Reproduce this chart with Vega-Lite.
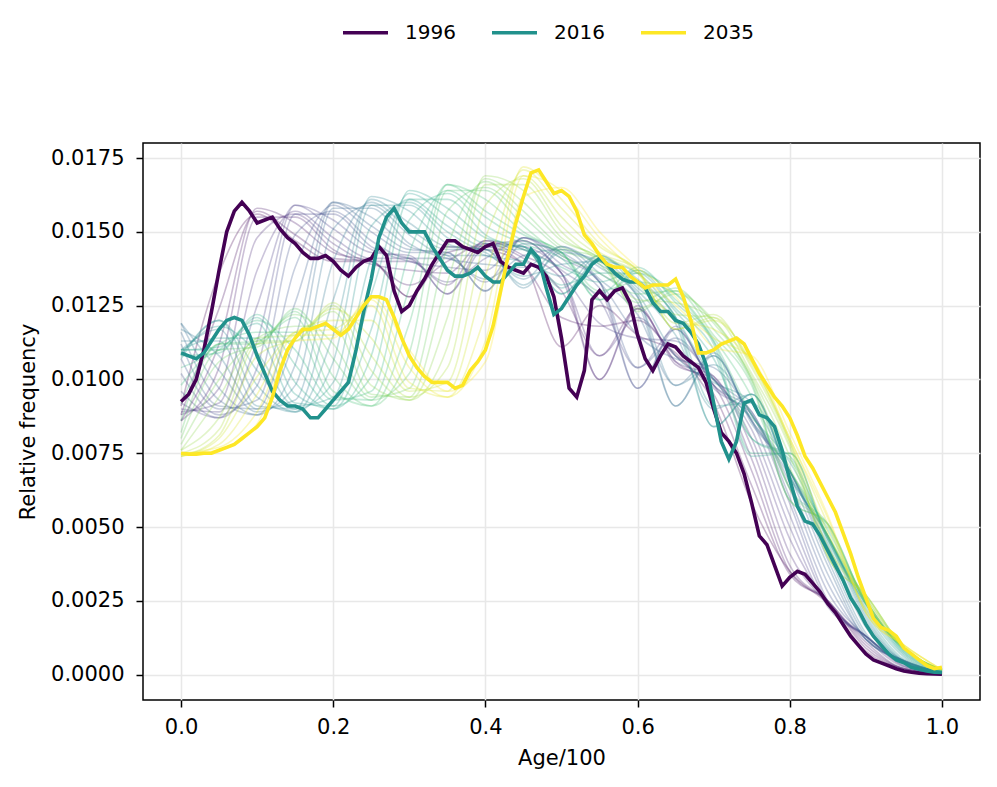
{
"$schema":"https://vega.github.io/schema/vega-lite/v6.json",
"width":837,"height":557,
"autosize":{"type":"none"},
"padding":{"left":143,"top":143,"right":17,"bottom":87},
"background":"white",
"config":{
"font":"DejaVu Sans",
"view":{"stroke":"#000000","strokeWidth":1.5},
"axis":{"domain":false,"grid":true,"gridColor":"#e8e8e8","gridWidth":1.5,"tickColor":"#000000","tickSize":7,"tickWidth":1.5,"labelColor":"#000000","labelFontSize":21,"labelPadding":10,"labelFlush":false,"labelOverlap":false,"titleFontSize":21,"titleFontWeight":"normal","titleColor":"#000000"}
},
"datasets":{
"thin":[
{"t":1996,"x":0,"v":0.0091},{"t":1996,"x":0.05,"v":0.0136},{"t":1996,"x":0.1,"v":0.0156},{"t":1996,"x":0.15,"v":0.0147},{"t":1996,"x":0.2,"v":0.014},{"t":1996,"x":0.25,"v":0.014},{"t":1996,"x":0.3,"v":0.0128},{"t":1996,"x":0.35,"v":0.0145},{"t":1996,"x":0.4,"v":0.0144},{"t":1996,"x":0.45,"v":0.0139},{"t":1996,"x":0.5,"v":0.0111},{"t":1996,"x":0.55,"v":0.0125},{"t":1996,"x":0.6,"v":0.0115},{"t":1996,"x":0.65,"v":0.0109},{"t":1996,"x":0.7,"v":0.0092},{"t":1996,"x":0.75,"v":0.0058},{"t":1996,"x":0.8,"v":0.0035},{"t":1996,"x":0.85,"v":0.0024},{"t":1996,"x":0.9,"v":0.0008},{"t":1996,"x":0.95,"v":0.0002},{"t":1996,"x":1,"v":0.00002},
{"t":1997,"x":0,"v":0.0088},{"t":1997,"x":0.05,"v":0.0124},{"t":1997,"x":0.1,"v":0.0157},{"t":1997,"x":0.15,"v":0.0149},{"t":1997,"x":0.2,"v":0.0141},{"t":1997,"x":0.25,"v":0.014},{"t":1997,"x":0.3,"v":0.0128},{"t":1997,"x":0.35,"v":0.0143},{"t":1997,"x":0.4,"v":0.0145},{"t":1997,"x":0.45,"v":0.0139},{"t":1997,"x":0.5,"v":0.0121},{"t":1997,"x":0.55,"v":0.0118},{"t":1997,"x":0.6,"v":0.012},{"t":1997,"x":0.65,"v":0.0108},{"t":1997,"x":0.7,"v":0.0095},{"t":1997,"x":0.75,"v":0.0064},{"t":1997,"x":0.8,"v":0.0034},{"t":1997,"x":0.85,"v":0.0025},{"t":1997,"x":0.9,"v":0.0009},{"t":1997,"x":0.95,"v":0.0002},{"t":1997,"x":1,"v":0.00003},
{"t":1998,"x":0,"v":0.0086},{"t":1998,"x":0.05,"v":0.0112},{"t":1998,"x":0.1,"v":0.0158},{"t":1998,"x":0.15,"v":0.0153},{"t":1998,"x":0.2,"v":0.0143},{"t":1998,"x":0.25,"v":0.014},{"t":1998,"x":0.3,"v":0.0132},{"t":1998,"x":0.35,"v":0.014},{"t":1998,"x":0.4,"v":0.0146},{"t":1998,"x":0.45,"v":0.0141},{"t":1998,"x":0.5,"v":0.013},{"t":1998,"x":0.55,"v":0.0108},{"t":1998,"x":0.6,"v":0.0124},{"t":1998,"x":0.65,"v":0.0106},{"t":1998,"x":0.7,"v":0.0098},{"t":1998,"x":0.75,"v":0.0069},{"t":1998,"x":0.8,"v":0.0035},{"t":1998,"x":0.85,"v":0.0025},{"t":1998,"x":0.9,"v":0.001},{"t":1998,"x":0.95,"v":0.0002},{"t":1998,"x":1,"v":0.00003},
{"t":1999,"x":0,"v":0.0086},{"t":1999,"x":0.05,"v":0.0104},{"t":1999,"x":0.1,"v":0.0155},{"t":1999,"x":0.15,"v":0.0155},{"t":1999,"x":0.2,"v":0.0144},{"t":1999,"x":0.25,"v":0.0139},{"t":1999,"x":0.3,"v":0.0137},{"t":1999,"x":0.35,"v":0.0136},{"t":1999,"x":0.4,"v":0.0147},{"t":1999,"x":0.45,"v":0.0142},{"t":1999,"x":0.5,"v":0.0134},{"t":1999,"x":0.55,"v":0.01},{"t":1999,"x":0.6,"v":0.0125},{"t":1999,"x":0.65,"v":0.0105},{"t":1999,"x":0.7,"v":0.01},{"t":1999,"x":0.75,"v":0.0073},{"t":1999,"x":0.8,"v":0.0037},{"t":1999,"x":0.85,"v":0.0025},{"t":1999,"x":0.9,"v":0.0011},{"t":1999,"x":0.95,"v":0.0002},{"t":1999,"x":1,"v":0.00003},
{"t":2000,"x":0,"v":0.0088},{"t":2000,"x":0.05,"v":0.0097},{"t":2000,"x":0.1,"v":0.0148},{"t":2000,"x":0.15,"v":0.0156},{"t":2000,"x":0.2,"v":0.0146},{"t":2000,"x":0.25,"v":0.014},{"t":2000,"x":0.3,"v":0.014},{"t":2000,"x":0.35,"v":0.0132},{"t":2000,"x":0.4,"v":0.0147},{"t":2000,"x":0.45,"v":0.0144},{"t":2000,"x":0.5,"v":0.0136},{"t":2000,"x":0.55,"v":0.01},{"t":2000,"x":0.6,"v":0.0124},{"t":2000,"x":0.65,"v":0.0106},{"t":2000,"x":0.7,"v":0.0101},{"t":2000,"x":0.75,"v":0.0077},{"t":2000,"x":0.8,"v":0.0041},{"t":2000,"x":0.85,"v":0.0024},{"t":2000,"x":0.9,"v":0.0012},{"t":2000,"x":0.95,"v":0.00025},{"t":2000,"x":1,"v":0.00003},
{"t":2001,"x":0,"v":0.0089},{"t":2001,"x":0.05,"v":0.0092},{"t":2001,"x":0.1,"v":0.0137},{"t":2001,"x":0.15,"v":0.0157},{"t":2001,"x":0.2,"v":0.0148},{"t":2001,"x":0.25,"v":0.0141},{"t":2001,"x":0.3,"v":0.0141},{"t":2001,"x":0.35,"v":0.0129},{"t":2001,"x":0.4,"v":0.0146},{"t":2001,"x":0.45,"v":0.0145},{"t":2001,"x":0.5,"v":0.0136},{"t":2001,"x":0.55,"v":0.0108},{"t":2001,"x":0.6,"v":0.0121},{"t":2001,"x":0.65,"v":0.0108},{"t":2001,"x":0.7,"v":0.0101},{"t":2001,"x":0.75,"v":0.008},{"t":2001,"x":0.8,"v":0.0046},{"t":2001,"x":0.85,"v":0.0024},{"t":2001,"x":0.9,"v":0.0013},{"t":2001,"x":0.95,"v":0.00028},{"t":2001,"x":1,"v":0.00004},
{"t":2002,"x":0,"v":0.009},{"t":2002,"x":0.05,"v":0.0089},{"t":2002,"x":0.1,"v":0.0125},{"t":2002,"x":0.15,"v":0.0159},{"t":2002,"x":0.2,"v":0.0151},{"t":2002,"x":0.25,"v":0.0143},{"t":2002,"x":0.3,"v":0.0142},{"t":2002,"x":0.35,"v":0.0129},{"t":2002,"x":0.4,"v":0.0145},{"t":2002,"x":0.45,"v":0.0147},{"t":2002,"x":0.5,"v":0.0136},{"t":2002,"x":0.55,"v":0.0119},{"t":2002,"x":0.6,"v":0.0114},{"t":2002,"x":0.65,"v":0.0113},{"t":2002,"x":0.7,"v":0.01},{"t":2002,"x":0.75,"v":0.0083},{"t":2002,"x":0.8,"v":0.005},{"t":2002,"x":0.85,"v":0.0023},{"t":2002,"x":0.9,"v":0.0013},{"t":2002,"x":0.95,"v":0.0003},{"t":2002,"x":1,"v":0.00004},
{"t":2003,"x":0,"v":0.0092},{"t":2003,"x":0.05,"v":0.0087},{"t":2003,"x":0.1,"v":0.0113},{"t":2003,"x":0.15,"v":0.0159},{"t":2003,"x":0.2,"v":0.0154},{"t":2003,"x":0.25,"v":0.0144},{"t":2003,"x":0.3,"v":0.0141},{"t":2003,"x":0.35,"v":0.0133},{"t":2003,"x":0.4,"v":0.0141},{"t":2003,"x":0.45,"v":0.0147},{"t":2003,"x":0.5,"v":0.0137},{"t":2003,"x":0.55,"v":0.0127},{"t":2003,"x":0.6,"v":0.0104},{"t":2003,"x":0.65,"v":0.0117},{"t":2003,"x":0.7,"v":0.0098},{"t":2003,"x":0.75,"v":0.0086},{"t":2003,"x":0.8,"v":0.0054},{"t":2003,"x":0.85,"v":0.0024},{"t":2003,"x":0.9,"v":0.0013},{"t":2003,"x":0.95,"v":0.00036},{"t":2003,"x":1,"v":0.00004},
{"t":2004,"x":0,"v":0.0096},{"t":2004,"x":0.05,"v":0.0087},{"t":2004,"x":0.1,"v":0.0104},{"t":2004,"x":0.15,"v":0.0156},{"t":2004,"x":0.2,"v":0.0156},{"t":2004,"x":0.25,"v":0.0145},{"t":2004,"x":0.3,"v":0.014},{"t":2004,"x":0.35,"v":0.0138},{"t":2004,"x":0.4,"v":0.0137},{"t":2004,"x":0.45,"v":0.0148},{"t":2004,"x":0.5,"v":0.0139},{"t":2004,"x":0.55,"v":0.0131},{"t":2004,"x":0.6,"v":0.0097},{"t":2004,"x":0.65,"v":0.0118},{"t":2004,"x":0.7,"v":0.0097},{"t":2004,"x":0.75,"v":0.0088},{"t":2004,"x":0.8,"v":0.0058},{"t":2004,"x":0.85,"v":0.0025},{"t":2004,"x":0.9,"v":0.0013},{"t":2004,"x":0.95,"v":0.0004},{"t":2004,"x":1,"v":0.00004},
{"t":2005,"x":0,"v":0.0102},{"t":2005,"x":0.05,"v":0.0088},{"t":2005,"x":0.1,"v":0.0098},{"t":2005,"x":0.15,"v":0.0149},{"t":2005,"x":0.2,"v":0.0157},{"t":2005,"x":0.25,"v":0.0147},{"t":2005,"x":0.3,"v":0.0141},{"t":2005,"x":0.35,"v":0.0141},{"t":2005,"x":0.4,"v":0.0133},{"t":2005,"x":0.45,"v":0.0148},{"t":2005,"x":0.5,"v":0.0141},{"t":2005,"x":0.55,"v":0.0133},{"t":2005,"x":0.6,"v":0.0097},{"t":2005,"x":0.65,"v":0.0117},{"t":2005,"x":0.7,"v":0.0098},{"t":2005,"x":0.75,"v":0.0089},{"t":2005,"x":0.8,"v":0.006},{"t":2005,"x":0.85,"v":0.0028},{"t":2005,"x":0.9,"v":0.0013},{"t":2005,"x":0.95,"v":0.0004},{"t":2005,"x":1,"v":0.00005},
{"t":2006,"x":0,"v":0.0107},{"t":2006,"x":0.05,"v":0.009},{"t":2006,"x":0.1,"v":0.0093},{"t":2006,"x":0.15,"v":0.0138},{"t":2006,"x":0.2,"v":0.0159},{"t":2006,"x":0.25,"v":0.015},{"t":2006,"x":0.3,"v":0.0143},{"t":2006,"x":0.35,"v":0.0143},{"t":2006,"x":0.4,"v":0.013},{"t":2006,"x":0.45,"v":0.0148},{"t":2006,"x":0.5,"v":0.0142},{"t":2006,"x":0.55,"v":0.0133},{"t":2006,"x":0.6,"v":0.0104},{"t":2006,"x":0.65,"v":0.0114},{"t":2006,"x":0.7,"v":0.01},{"t":2006,"x":0.75,"v":0.0089},{"t":2006,"x":0.8,"v":0.0063},{"t":2006,"x":0.85,"v":0.0031},{"t":2006,"x":0.9,"v":0.0012},{"t":2006,"x":0.95,"v":0.00046},{"t":2006,"x":1,"v":0.00005},
{"t":2007,"x":0,"v":0.0112},{"t":2007,"x":0.05,"v":0.0091},{"t":2007,"x":0.1,"v":0.009},{"t":2007,"x":0.15,"v":0.0126},{"t":2007,"x":0.2,"v":0.016},{"t":2007,"x":0.25,"v":0.0152},{"t":2007,"x":0.3,"v":0.0144},{"t":2007,"x":0.35,"v":0.0143},{"t":2007,"x":0.4,"v":0.013},{"t":2007,"x":0.45,"v":0.0146},{"t":2007,"x":0.5,"v":0.0143},{"t":2007,"x":0.55,"v":0.0133},{"t":2007,"x":0.6,"v":0.0115},{"t":2007,"x":0.65,"v":0.0107},{"t":2007,"x":0.7,"v":0.0104},{"t":2007,"x":0.75,"v":0.0088},{"t":2007,"x":0.8,"v":0.0065},{"t":2007,"x":0.85,"v":0.0034},{"t":2007,"x":0.9,"v":0.0012},{"t":2007,"x":0.95,"v":0.00047},{"t":2007,"x":1,"v":0.00006},
{"t":2008,"x":0,"v":0.0116},{"t":2008,"x":0.05,"v":0.0093},{"t":2008,"x":0.1,"v":0.0088},{"t":2008,"x":0.15,"v":0.0114},{"t":2008,"x":0.2,"v":0.016},{"t":2008,"x":0.25,"v":0.0155},{"t":2008,"x":0.3,"v":0.0145},{"t":2008,"x":0.35,"v":0.0142},{"t":2008,"x":0.4,"v":0.0134},{"t":2008,"x":0.45,"v":0.0142},{"t":2008,"x":0.5,"v":0.0144},{"t":2008,"x":0.55,"v":0.0134},{"t":2008,"x":0.6,"v":0.0122},{"t":2008,"x":0.65,"v":0.0098},{"t":2008,"x":0.7,"v":0.0108},{"t":2008,"x":0.75,"v":0.0086},{"t":2008,"x":0.8,"v":0.0067},{"t":2008,"x":0.85,"v":0.0037},{"t":2008,"x":0.9,"v":0.0012},{"t":2008,"x":0.95,"v":0.00048},{"t":2008,"x":1,"v":0.00006},
{"t":2009,"x":0,"v":0.0119},{"t":2009,"x":0.05,"v":0.0097},{"t":2009,"x":0.1,"v":0.0088},{"t":2009,"x":0.15,"v":0.0105},{"t":2009,"x":0.2,"v":0.0158},{"t":2009,"x":0.25,"v":0.0158},{"t":2009,"x":0.3,"v":0.0146},{"t":2009,"x":0.35,"v":0.0141},{"t":2009,"x":0.4,"v":0.0139},{"t":2009,"x":0.45,"v":0.0138},{"t":2009,"x":0.5,"v":0.0145},{"t":2009,"x":0.55,"v":0.0136},{"t":2009,"x":0.6,"v":0.0126},{"t":2009,"x":0.65,"v":0.0091},{"t":2009,"x":0.7,"v":0.0109},{"t":2009,"x":0.75,"v":0.0085},{"t":2009,"x":0.8,"v":0.0069},{"t":2009,"x":0.85,"v":0.0039},{"t":2009,"x":0.9,"v":0.0013},{"t":2009,"x":0.95,"v":0.00047},{"t":2009,"x":1,"v":0.00007},
{"t":2010,"x":0,"v":0.0119},{"t":2010,"x":0.05,"v":0.0103},{"t":2010,"x":0.1,"v":0.0089},{"t":2010,"x":0.15,"v":0.0098},{"t":2010,"x":0.2,"v":0.0151},{"t":2010,"x":0.25,"v":0.0159},{"t":2010,"x":0.3,"v":0.0149},{"t":2010,"x":0.35,"v":0.0142},{"t":2010,"x":0.4,"v":0.0142},{"t":2010,"x":0.45,"v":0.0134},{"t":2010,"x":0.5,"v":0.0145},{"t":2010,"x":0.55,"v":0.0138},{"t":2010,"x":0.6,"v":0.0128},{"t":2010,"x":0.65,"v":0.0091},{"t":2010,"x":0.7,"v":0.0108},{"t":2010,"x":0.75,"v":0.0086},{"t":2010,"x":0.8,"v":0.0069},{"t":2010,"x":0.85,"v":0.0041},{"t":2010,"x":0.9,"v":0.0014},{"t":2010,"x":0.95,"v":0.00046},{"t":2010,"x":1,"v":0.00008},
{"t":2011,"x":0,"v":0.0117},{"t":2011,"x":0.05,"v":0.0108},{"t":2011,"x":0.1,"v":0.009},{"t":2011,"x":0.15,"v":0.0093},{"t":2011,"x":0.2,"v":0.014},{"t":2011,"x":0.25,"v":0.016},{"t":2011,"x":0.3,"v":0.0151},{"t":2011,"x":0.35,"v":0.0144},{"t":2011,"x":0.4,"v":0.0144},{"t":2011,"x":0.45,"v":0.0131},{"t":2011,"x":0.5,"v":0.0144},{"t":2011,"x":0.55,"v":0.0139},{"t":2011,"x":0.6,"v":0.0128},{"t":2011,"x":0.65,"v":0.0098},{"t":2011,"x":0.7,"v":0.0105},{"t":2011,"x":0.75,"v":0.0088},{"t":2011,"x":0.8,"v":0.0069},{"t":2011,"x":0.85,"v":0.0043},{"t":2011,"x":0.9,"v":0.0016},{"t":2011,"x":0.95,"v":0.00045},{"t":2011,"x":1,"v":0.00008},
{"t":2012,"x":0,"v":0.0113},{"t":2012,"x":0.05,"v":0.0113},{"t":2012,"x":0.1,"v":0.0091},{"t":2012,"x":0.15,"v":0.009},{"t":2012,"x":0.2,"v":0.0127},{"t":2012,"x":0.25,"v":0.0161},{"t":2012,"x":0.3,"v":0.0153},{"t":2012,"x":0.35,"v":0.0145},{"t":2012,"x":0.4,"v":0.0144},{"t":2012,"x":0.45,"v":0.0132},{"t":2012,"x":0.5,"v":0.0143},{"t":2012,"x":0.55,"v":0.014},{"t":2012,"x":0.6,"v":0.0129},{"t":2012,"x":0.65,"v":0.0108},{"t":2012,"x":0.7,"v":0.0099},{"t":2012,"x":0.75,"v":0.0092},{"t":2012,"x":0.8,"v":0.0069},{"t":2012,"x":0.85,"v":0.0044},{"t":2012,"x":0.9,"v":0.0018},{"t":2012,"x":0.95,"v":0.00044},{"t":2012,"x":1,"v":0.00009},
{"t":2013,"x":0,"v":0.011},{"t":2013,"x":0.05,"v":0.0117},{"t":2013,"x":0.1,"v":0.0094},{"t":2013,"x":0.15,"v":0.0089},{"t":2013,"x":0.2,"v":0.0115},{"t":2013,"x":0.25,"v":0.0162},{"t":2013,"x":0.3,"v":0.0157},{"t":2013,"x":0.35,"v":0.0146},{"t":2013,"x":0.4,"v":0.0143},{"t":2013,"x":0.45,"v":0.0135},{"t":2013,"x":0.5,"v":0.0139},{"t":2013,"x":0.55,"v":0.014},{"t":2013,"x":0.6,"v":0.013},{"t":2013,"x":0.65,"v":0.0115},{"t":2013,"x":0.7,"v":0.009},{"t":2013,"x":0.75,"v":0.0095},{"t":2013,"x":0.8,"v":0.0068},{"t":2013,"x":0.85,"v":0.0046},{"t":2013,"x":0.9,"v":0.0019},{"t":2013,"x":0.95,"v":0.00045},{"t":2013,"x":1,"v":0.00009},
{"t":2014,"x":0,"v":0.0108},{"t":2014,"x":0.05,"v":0.012},{"t":2014,"x":0.1,"v":0.0098},{"t":2014,"x":0.15,"v":0.0089},{"t":2014,"x":0.2,"v":0.0106},{"t":2014,"x":0.25,"v":0.0159},{"t":2014,"x":0.3,"v":0.0159},{"t":2014,"x":0.35,"v":0.0148},{"t":2014,"x":0.4,"v":0.0142},{"t":2014,"x":0.45,"v":0.014},{"t":2014,"x":0.5,"v":0.0135},{"t":2014,"x":0.55,"v":0.0142},{"t":2014,"x":0.6,"v":0.0131},{"t":2014,"x":0.65,"v":0.0119},{"t":2014,"x":0.7,"v":0.0084},{"t":2014,"x":0.75,"v":0.0095},{"t":2014,"x":0.8,"v":0.0067},{"t":2014,"x":0.85,"v":0.0047},{"t":2014,"x":0.9,"v":0.002},{"t":2014,"x":0.95,"v":0.00048},{"t":2014,"x":1,"v":0.00009},
{"t":2015,"x":0,"v":0.0107},{"t":2015,"x":0.05,"v":0.012},{"t":2015,"x":0.1,"v":0.0103},{"t":2015,"x":0.15,"v":0.009},{"t":2015,"x":0.2,"v":0.0099},{"t":2015,"x":0.25,"v":0.0152},{"t":2015,"x":0.3,"v":0.016},{"t":2015,"x":0.35,"v":0.015},{"t":2015,"x":0.4,"v":0.0144},{"t":2015,"x":0.45,"v":0.0144},{"t":2015,"x":0.5,"v":0.0131},{"t":2015,"x":0.55,"v":0.0142},{"t":2015,"x":0.6,"v":0.0133},{"t":2015,"x":0.65,"v":0.0121},{"t":2015,"x":0.7,"v":0.0084},{"t":2015,"x":0.75,"v":0.0095},{"t":2015,"x":0.8,"v":0.0067},{"t":2015,"x":0.85,"v":0.0047},{"t":2015,"x":0.9,"v":0.0021},{"t":2015,"x":0.95,"v":0.00052},{"t":2015,"x":1,"v":0.00009},
{"t":2016,"x":0,"v":0.0109},{"t":2016,"x":0.05,"v":0.0118},{"t":2016,"x":0.1,"v":0.0109},{"t":2016,"x":0.15,"v":0.0091},{"t":2016,"x":0.2,"v":0.0094},{"t":2016,"x":0.25,"v":0.0141},{"t":2016,"x":0.3,"v":0.0161},{"t":2016,"x":0.35,"v":0.0152},{"t":2016,"x":0.4,"v":0.0145},{"t":2016,"x":0.45,"v":0.0145},{"t":2016,"x":0.5,"v":0.0129},{"t":2016,"x":0.55,"v":0.0141},{"t":2016,"x":0.6,"v":0.0134},{"t":2016,"x":0.65,"v":0.0121},{"t":2016,"x":0.7,"v":0.0091},{"t":2016,"x":0.75,"v":0.0092},{"t":2016,"x":0.8,"v":0.0069},{"t":2016,"x":0.85,"v":0.0047},{"t":2016,"x":0.9,"v":0.0022},{"t":2016,"x":0.95,"v":0.00059},{"t":2016,"x":1,"v":0.00008},
{"t":2017,"x":0,"v":0.011},{"t":2017,"x":0.05,"v":0.0114},{"t":2017,"x":0.1,"v":0.0114},{"t":2017,"x":0.15,"v":0.0092},{"t":2017,"x":0.2,"v":0.0091},{"t":2017,"x":0.25,"v":0.0129},{"t":2017,"x":0.3,"v":0.0163},{"t":2017,"x":0.35,"v":0.0155},{"t":2017,"x":0.4,"v":0.0146},{"t":2017,"x":0.45,"v":0.0145},{"t":2017,"x":0.5,"v":0.0129},{"t":2017,"x":0.55,"v":0.014},{"t":2017,"x":0.6,"v":0.0136},{"t":2017,"x":0.65,"v":0.0121},{"t":2017,"x":0.7,"v":0.01},{"t":2017,"x":0.75,"v":0.0087},{"t":2017,"x":0.8,"v":0.0072},{"t":2017,"x":0.85,"v":0.0047},{"t":2017,"x":0.9,"v":0.0023},{"t":2017,"x":0.95,"v":0.00065},{"t":2017,"x":1,"v":0.00008},
{"t":2018,"x":0,"v":0.011},{"t":2018,"x":0.05,"v":0.0111},{"t":2018,"x":0.1,"v":0.0119},{"t":2018,"x":0.15,"v":0.0095},{"t":2018,"x":0.2,"v":0.009},{"t":2018,"x":0.25,"v":0.0117},{"t":2018,"x":0.3,"v":0.0164},{"t":2018,"x":0.35,"v":0.0158},{"t":2018,"x":0.4,"v":0.0148},{"t":2018,"x":0.45,"v":0.0145},{"t":2018,"x":0.5,"v":0.0132},{"t":2018,"x":0.55,"v":0.0136},{"t":2018,"x":0.6,"v":0.0136},{"t":2018,"x":0.65,"v":0.0123},{"t":2018,"x":0.7,"v":0.0107},{"t":2018,"x":0.75,"v":0.008},{"t":2018,"x":0.8,"v":0.0074},{"t":2018,"x":0.85,"v":0.0046},{"t":2018,"x":0.9,"v":0.0024},{"t":2018,"x":0.95,"v":0.0007},{"t":2018,"x":1,"v":0.00008},
{"t":2019,"x":0,"v":0.011},{"t":2019,"x":0.05,"v":0.011},{"t":2019,"x":0.1,"v":0.0121},{"t":2019,"x":0.15,"v":0.0099},{"t":2019,"x":0.2,"v":0.009},{"t":2019,"x":0.25,"v":0.0108},{"t":2019,"x":0.3,"v":0.0161},{"t":2019,"x":0.35,"v":0.0161},{"t":2019,"x":0.4,"v":0.0149},{"t":2019,"x":0.45,"v":0.0144},{"t":2019,"x":0.5,"v":0.0138},{"t":2019,"x":0.55,"v":0.0133},{"t":2019,"x":0.6,"v":0.0137},{"t":2019,"x":0.65,"v":0.0124},{"t":2019,"x":0.7,"v":0.011},{"t":2019,"x":0.75,"v":0.0074},{"t":2019,"x":0.8,"v":0.0075},{"t":2019,"x":0.85,"v":0.0045},{"t":2019,"x":0.9,"v":0.0024},{"t":2019,"x":0.95,"v":0.00074},{"t":2019,"x":1,"v":0.00009},
{"t":2020,"x":0,"v":0.0108},{"t":2020,"x":0.05,"v":0.0109},{"t":2020,"x":0.1,"v":0.0122},{"t":2020,"x":0.15,"v":0.0105},{"t":2020,"x":0.2,"v":0.0091},{"t":2020,"x":0.25,"v":0.0101},{"t":2020,"x":0.3,"v":0.0154},{"t":2020,"x":0.35,"v":0.0163},{"t":2020,"x":0.4,"v":0.0152},{"t":2020,"x":0.45,"v":0.0146},{"t":2020,"x":0.5,"v":0.0141},{"t":2020,"x":0.55,"v":0.0129},{"t":2020,"x":0.6,"v":0.0138},{"t":2020,"x":0.65,"v":0.0126},{"t":2020,"x":0.7,"v":0.0112},{"t":2020,"x":0.75,"v":0.0075},{"t":2020,"x":0.8,"v":0.0075},{"t":2020,"x":0.85,"v":0.0046},{"t":2020,"x":0.9,"v":0.0025},{"t":2020,"x":0.95,"v":0.00078},{"t":2020,"x":1,"v":0.0001},
{"t":2021,"x":0,"v":0.0104},{"t":2021,"x":0.05,"v":0.011},{"t":2021,"x":0.1,"v":0.012},{"t":2021,"x":0.15,"v":0.011},{"t":2021,"x":0.2,"v":0.0093},{"t":2021,"x":0.25,"v":0.0096},{"t":2021,"x":0.3,"v":0.0143},{"t":2021,"x":0.35,"v":0.0164},{"t":2021,"x":0.4,"v":0.0155},{"t":2021,"x":0.45,"v":0.0147},{"t":2021,"x":0.5,"v":0.0143},{"t":2021,"x":0.55,"v":0.0127},{"t":2021,"x":0.6,"v":0.0137},{"t":2021,"x":0.65,"v":0.0127},{"t":2021,"x":0.7,"v":0.0113},{"t":2021,"x":0.75,"v":0.008},{"t":2021,"x":0.8,"v":0.0073},{"t":2021,"x":0.85,"v":0.0047},{"t":2021,"x":0.9,"v":0.0025},{"t":2021,"x":0.95,"v":0.00081},{"t":2021,"x":1,"v":0.0001},
{"t":2022,"x":0,"v":0.0098},{"t":2022,"x":0.05,"v":0.0112},{"t":2022,"x":0.1,"v":0.0116},{"t":2022,"x":0.15,"v":0.0116},{"t":2022,"x":0.2,"v":0.0094},{"t":2022,"x":0.25,"v":0.0093},{"t":2022,"x":0.3,"v":0.0131},{"t":2022,"x":0.35,"v":0.0166},{"t":2022,"x":0.4,"v":0.0157},{"t":2022,"x":0.45,"v":0.0149},{"t":2022,"x":0.5,"v":0.0143},{"t":2022,"x":0.55,"v":0.0127},{"t":2022,"x":0.6,"v":0.0136},{"t":2022,"x":0.65,"v":0.0129},{"t":2022,"x":0.7,"v":0.0113},{"t":2022,"x":0.75,"v":0.0088},{"t":2022,"x":0.8,"v":0.0069},{"t":2022,"x":0.85,"v":0.0049},{"t":2022,"x":0.9,"v":0.0025},{"t":2022,"x":0.95,"v":0.00084},{"t":2022,"x":1,"v":0.00012},
{"t":2023,"x":0,"v":0.0092},{"t":2023,"x":0.05,"v":0.0112},{"t":2023,"x":0.1,"v":0.0113},{"t":2023,"x":0.15,"v":0.0121},{"t":2023,"x":0.2,"v":0.0096},{"t":2023,"x":0.25,"v":0.0091},{"t":2023,"x":0.3,"v":0.0119},{"t":2023,"x":0.35,"v":0.0166},{"t":2023,"x":0.4,"v":0.0161},{"t":2023,"x":0.45,"v":0.015},{"t":2023,"x":0.5,"v":0.0143},{"t":2023,"x":0.55,"v":0.013},{"t":2023,"x":0.6,"v":0.0133},{"t":2023,"x":0.65,"v":0.0129},{"t":2023,"x":0.7,"v":0.0114},{"t":2023,"x":0.75,"v":0.0094},{"t":2023,"x":0.8,"v":0.0063},{"t":2023,"x":0.85,"v":0.0051},{"t":2023,"x":0.9,"v":0.0024},{"t":2023,"x":0.95,"v":0.00087},{"t":2023,"x":1,"v":0.00013},
{"t":2024,"x":0,"v":0.0086},{"t":2024,"x":0.05,"v":0.0112},{"t":2024,"x":0.1,"v":0.0112},{"t":2024,"x":0.15,"v":0.0123},{"t":2024,"x":0.2,"v":0.0101},{"t":2024,"x":0.25,"v":0.0091},{"t":2024,"x":0.3,"v":0.0109},{"t":2024,"x":0.35,"v":0.0164},{"t":2024,"x":0.4,"v":0.0164},{"t":2024,"x":0.45,"v":0.0152},{"t":2024,"x":0.5,"v":0.0142},{"t":2024,"x":0.55,"v":0.0136},{"t":2024,"x":0.6,"v":0.0129},{"t":2024,"x":0.65,"v":0.013},{"t":2024,"x":0.7,"v":0.0115},{"t":2024,"x":0.75,"v":0.0098},{"t":2024,"x":0.8,"v":0.0059},{"t":2024,"x":0.85,"v":0.0051},{"t":2024,"x":0.9,"v":0.0024},{"t":2024,"x":0.95,"v":0.00089},{"t":2024,"x":1,"v":0.00014},
{"t":2025,"x":0,"v":0.0082},{"t":2025,"x":0.05,"v":0.011},{"t":2025,"x":0.1,"v":0.0111},{"t":2025,"x":0.15,"v":0.0124},{"t":2025,"x":0.2,"v":0.0107},{"t":2025,"x":0.25,"v":0.0093},{"t":2025,"x":0.3,"v":0.0102},{"t":2025,"x":0.35,"v":0.0157},{"t":2025,"x":0.4,"v":0.0165},{"t":2025,"x":0.45,"v":0.0155},{"t":2025,"x":0.5,"v":0.0144},{"t":2025,"x":0.55,"v":0.0139},{"t":2025,"x":0.6,"v":0.0126},{"t":2025,"x":0.65,"v":0.0131},{"t":2025,"x":0.7,"v":0.0117},{"t":2025,"x":0.75,"v":0.0099},{"t":2025,"x":0.8,"v":0.0059},{"t":2025,"x":0.85,"v":0.0051},{"t":2025,"x":0.9,"v":0.0024},{"t":2025,"x":0.95,"v":0.0009},{"t":2025,"x":1,"v":0.00015},
{"t":2026,"x":0,"v":0.008},{"t":2026,"x":0.05,"v":0.0106},{"t":2026,"x":0.1,"v":0.0112},{"t":2026,"x":0.15,"v":0.0122},{"t":2026,"x":0.2,"v":0.0112},{"t":2026,"x":0.25,"v":0.0094},{"t":2026,"x":0.3,"v":0.0097},{"t":2026,"x":0.35,"v":0.0145},{"t":2026,"x":0.4,"v":0.0167},{"t":2026,"x":0.45,"v":0.0157},{"t":2026,"x":0.5,"v":0.0145},{"t":2026,"x":0.55,"v":0.0141},{"t":2026,"x":0.6,"v":0.0123},{"t":2026,"x":0.65,"v":0.013},{"t":2026,"x":0.7,"v":0.0119},{"t":2026,"x":0.75,"v":0.01},{"t":2026,"x":0.8,"v":0.0063},{"t":2026,"x":0.85,"v":0.005},{"t":2026,"x":0.9,"v":0.0025},{"t":2026,"x":0.95,"v":0.0009},{"t":2026,"x":1,"v":0.00015},
{"t":2027,"x":0,"v":0.0078},{"t":2027,"x":0.05,"v":0.01},{"t":2027,"x":0.1,"v":0.0114},{"t":2027,"x":0.15,"v":0.0118},{"t":2027,"x":0.2,"v":0.0118},{"t":2027,"x":0.25,"v":0.0095},{"t":2027,"x":0.3,"v":0.0094},{"t":2027,"x":0.35,"v":0.0133},{"t":2027,"x":0.4,"v":0.0168},{"t":2027,"x":0.45,"v":0.016},{"t":2027,"x":0.5,"v":0.0147},{"t":2027,"x":0.55,"v":0.0141},{"t":2027,"x":0.6,"v":0.0124},{"t":2027,"x":0.65,"v":0.0129},{"t":2027,"x":0.7,"v":0.012},{"t":2027,"x":0.75,"v":0.01},{"t":2027,"x":0.8,"v":0.007},{"t":2027,"x":0.85,"v":0.0047},{"t":2027,"x":0.9,"v":0.0026},{"t":2027,"x":0.95,"v":0.0009},{"t":2027,"x":1,"v":0.00016},
{"t":2028,"x":0,"v":0.0076},{"t":2028,"x":0.05,"v":0.0094},{"t":2028,"x":0.1,"v":0.0114},{"t":2028,"x":0.15,"v":0.0115},{"t":2028,"x":0.2,"v":0.0123},{"t":2028,"x":0.25,"v":0.0098},{"t":2028,"x":0.3,"v":0.0093},{"t":2028,"x":0.35,"v":0.0121},{"t":2028,"x":0.4,"v":0.0169},{"t":2028,"x":0.45,"v":0.0164},{"t":2028,"x":0.5,"v":0.0148},{"t":2028,"x":0.55,"v":0.0141},{"t":2028,"x":0.6,"v":0.0127},{"t":2028,"x":0.65,"v":0.0126},{"t":2028,"x":0.7,"v":0.012},{"t":2028,"x":0.75,"v":0.0101},{"t":2028,"x":0.8,"v":0.0074},{"t":2028,"x":0.85,"v":0.0043},{"t":2028,"x":0.9,"v":0.0027},{"t":2028,"x":0.95,"v":0.0009},{"t":2028,"x":1,"v":0.00016},
{"t":2029,"x":0,"v":0.0076},{"t":2029,"x":0.05,"v":0.0087},{"t":2029,"x":0.1,"v":0.0113},{"t":2029,"x":0.15,"v":0.0113},{"t":2029,"x":0.2,"v":0.0125},{"t":2029,"x":0.25,"v":0.0103},{"t":2029,"x":0.3,"v":0.0093},{"t":2029,"x":0.35,"v":0.0111},{"t":2029,"x":0.4,"v":0.0166},{"t":2029,"x":0.45,"v":0.0166},{"t":2029,"x":0.5,"v":0.015},{"t":2029,"x":0.55,"v":0.014},{"t":2029,"x":0.6,"v":0.0132},{"t":2029,"x":0.65,"v":0.0122},{"t":2029,"x":0.7,"v":0.0121},{"t":2029,"x":0.75,"v":0.0102},{"t":2029,"x":0.8,"v":0.0077},{"t":2029,"x":0.85,"v":0.004},{"t":2029,"x":0.9,"v":0.0027},{"t":2029,"x":0.95,"v":0.0009},{"t":2029,"x":1,"v":0.00017},
{"t":2030,"x":0,"v":0.0075},{"t":2030,"x":0.05,"v":0.0083},{"t":2030,"x":0.1,"v":0.0112},{"t":2030,"x":0.15,"v":0.0113},{"t":2030,"x":0.2,"v":0.0126},{"t":2030,"x":0.25,"v":0.0108},{"t":2030,"x":0.3,"v":0.0094},{"t":2030,"x":0.35,"v":0.0104},{"t":2030,"x":0.4,"v":0.0159},{"t":2030,"x":0.45,"v":0.0168},{"t":2030,"x":0.5,"v":0.0152},{"t":2030,"x":0.55,"v":0.0142},{"t":2030,"x":0.6,"v":0.0136},{"t":2030,"x":0.65,"v":0.0119},{"t":2030,"x":0.7,"v":0.0122},{"t":2030,"x":0.75,"v":0.0104},{"t":2030,"x":0.8,"v":0.0078},{"t":2030,"x":0.85,"v":0.004},{"t":2030,"x":0.9,"v":0.0027},{"t":2030,"x":0.95,"v":0.0009},{"t":2030,"x":1,"v":0.00017},
{"t":2031,"x":0,"v":0.0074},{"t":2031,"x":0.05,"v":0.0081},{"t":2031,"x":0.1,"v":0.0108},{"t":2031,"x":0.15,"v":0.0114},{"t":2031,"x":0.2,"v":0.0124},{"t":2031,"x":0.25,"v":0.0114},{"t":2031,"x":0.3,"v":0.0096},{"t":2031,"x":0.35,"v":0.0099},{"t":2031,"x":0.4,"v":0.0148},{"t":2031,"x":0.45,"v":0.0169},{"t":2031,"x":0.5,"v":0.0155},{"t":2031,"x":0.55,"v":0.0143},{"t":2031,"x":0.6,"v":0.0137},{"t":2031,"x":0.65,"v":0.0117},{"t":2031,"x":0.7,"v":0.0121},{"t":2031,"x":0.75,"v":0.0105},{"t":2031,"x":0.8,"v":0.0079},{"t":2031,"x":0.85,"v":0.0043},{"t":2031,"x":0.9,"v":0.0026},{"t":2031,"x":0.95,"v":0.0009},{"t":2031,"x":1,"v":0.00017},
{"t":2032,"x":0,"v":0.0074},{"t":2032,"x":0.05,"v":0.008},{"t":2032,"x":0.1,"v":0.0101},{"t":2032,"x":0.15,"v":0.0116},{"t":2032,"x":0.2,"v":0.012},{"t":2032,"x":0.25,"v":0.012},{"t":2032,"x":0.3,"v":0.0097},{"t":2032,"x":0.35,"v":0.0096},{"t":2032,"x":0.4,"v":0.0135},{"t":2032,"x":0.45,"v":0.0171},{"t":2032,"x":0.5,"v":0.0158},{"t":2032,"x":0.55,"v":0.0145},{"t":2032,"x":0.6,"v":0.0137},{"t":2032,"x":0.65,"v":0.0117},{"t":2032,"x":0.7,"v":0.012},{"t":2032,"x":0.75,"v":0.0106},{"t":2032,"x":0.8,"v":0.0079},{"t":2032,"x":0.85,"v":0.0048},{"t":2032,"x":0.9,"v":0.0025},{"t":2032,"x":0.95,"v":0.0009},{"t":2032,"x":1,"v":0.00017},
{"t":2033,"x":0,"v":0.0074},{"t":2033,"x":0.05,"v":0.0078},{"t":2033,"x":0.1,"v":0.0095},{"t":2033,"x":0.15,"v":0.0116},{"t":2033,"x":0.2,"v":0.0117},{"t":2033,"x":0.25,"v":0.0125},{"t":2033,"x":0.3,"v":0.0099},{"t":2033,"x":0.35,"v":0.0094},{"t":2033,"x":0.4,"v":0.0122},{"t":2033,"x":0.45,"v":0.0172},{"t":2033,"x":0.5,"v":0.0161},{"t":2033,"x":0.55,"v":0.0146},{"t":2033,"x":0.6,"v":0.0137},{"t":2033,"x":0.65,"v":0.012},{"t":2033,"x":0.7,"v":0.0117},{"t":2033,"x":0.75,"v":0.0106},{"t":2033,"x":0.8,"v":0.008},{"t":2033,"x":0.85,"v":0.0051},{"t":2033,"x":0.9,"v":0.0022},{"t":2033,"x":0.95,"v":0.001},{"t":2033,"x":1,"v":0.00017},
{"t":2034,"x":0,"v":0.0075},{"t":2034,"x":0.05,"v":0.0077},{"t":2034,"x":0.1,"v":0.0089},{"t":2034,"x":0.15,"v":0.0115},{"t":2034,"x":0.2,"v":0.0115},{"t":2034,"x":0.25,"v":0.0127},{"t":2034,"x":0.3,"v":0.0104},{"t":2034,"x":0.35,"v":0.0094},{"t":2034,"x":0.4,"v":0.0113},{"t":2034,"x":0.45,"v":0.0169},{"t":2034,"x":0.5,"v":0.0164},{"t":2034,"x":0.55,"v":0.0148},{"t":2034,"x":0.6,"v":0.0136},{"t":2034,"x":0.65,"v":0.0125},{"t":2034,"x":0.7,"v":0.0114},{"t":2034,"x":0.75,"v":0.0107},{"t":2034,"x":0.8,"v":0.008},{"t":2034,"x":0.85,"v":0.0053},{"t":2034,"x":0.9,"v":0.0021},{"t":2034,"x":0.95,"v":0.001},{"t":2034,"x":1,"v":0.00016},
{"t":2035,"x":0,"v":0.0075},{"t":2035,"x":0.05,"v":0.0076},{"t":2035,"x":0.1,"v":0.0085},{"t":2035,"x":0.15,"v":0.0113},{"t":2035,"x":0.2,"v":0.0114},{"t":2035,"x":0.25,"v":0.0128},{"t":2035,"x":0.3,"v":0.011},{"t":2035,"x":0.35,"v":0.0096},{"t":2035,"x":0.4,"v":0.0106},{"t":2035,"x":0.45,"v":0.0162},{"t":2035,"x":0.5,"v":0.0165},{"t":2035,"x":0.55,"v":0.015},{"t":2035,"x":0.6,"v":0.0138},{"t":2035,"x":0.65,"v":0.0128},{"t":2035,"x":0.7,"v":0.0111},{"t":2035,"x":0.75,"v":0.0108},{"t":2035,"x":0.8,"v":0.0082},{"t":2035,"x":0.85,"v":0.0054},{"t":2035,"x":0.9,"v":0.0021},{"t":2035,"x":0.95,"v":0.001},{"t":2035,"x":1,"v":0.00017}
],
"bold":[
{"year":"1996","x":0,"v":0.00925},{"year":"1996","x":0.01,"v":0.0095},{"year":"1996","x":0.02,"v":0.01},{"year":"1996","x":0.03,"v":0.011},{"year":"1996","x":0.04,"v":0.0123},{"year":"1996","x":0.05,"v":0.0137},{"year":"1996","x":0.06,"v":0.015},{"year":"1996","x":0.07,"v":0.0157},{"year":"1996","x":0.08,"v":0.016},{"year":"1996","x":0.09,"v":0.0157},
{"year":"1996","x":0.1,"v":0.0153},{"year":"1996","x":0.11,"v":0.0154},{"year":"1996","x":0.12,"v":0.0155},{"year":"1996","x":0.13,"v":0.0151},{"year":"1996","x":0.14,"v":0.0148},{"year":"1996","x":0.15,"v":0.0146},{"year":"1996","x":0.16,"v":0.0143},{"year":"1996","x":0.17,"v":0.0141},{"year":"1996","x":0.18,"v":0.0141},{"year":"1996","x":0.19,"v":0.0142},
{"year":"1996","x":0.2,"v":0.014},{"year":"1996","x":0.21,"v":0.0137},{"year":"1996","x":0.22,"v":0.0135},{"year":"1996","x":0.23,"v":0.0138},{"year":"1996","x":0.24,"v":0.014},{"year":"1996","x":0.25,"v":0.0141},{"year":"1996","x":0.26,"v":0.0145},{"year":"1996","x":0.27,"v":0.0142},{"year":"1996","x":0.28,"v":0.013},{"year":"1996","x":0.29,"v":0.0123},
{"year":"1996","x":0.3,"v":0.0125},{"year":"1996","x":0.31,"v":0.013},{"year":"1996","x":0.32,"v":0.0134},{"year":"1996","x":0.33,"v":0.0139},{"year":"1996","x":0.34,"v":0.0143},{"year":"1996","x":0.35,"v":0.0147},{"year":"1996","x":0.36,"v":0.0147},{"year":"1996","x":0.37,"v":0.0145},{"year":"1996","x":0.38,"v":0.0144},{"year":"1996","x":0.39,"v":0.0143},
{"year":"1996","x":0.4,"v":0.0145},{"year":"1996","x":0.41,"v":0.0146},{"year":"1996","x":0.42,"v":0.014},{"year":"1996","x":0.43,"v":0.0138},{"year":"1996","x":0.44,"v":0.0137},{"year":"1996","x":0.45,"v":0.0136},{"year":"1996","x":0.46,"v":0.0139},{"year":"1996","x":0.47,"v":0.0138},{"year":"1996","x":0.48,"v":0.0135},{"year":"1996","x":0.49,"v":0.0128},
{"year":"1996","x":0.5,"v":0.0114},{"year":"1996","x":0.51,"v":0.0097},{"year":"1996","x":0.52,"v":0.0094},{"year":"1996","x":0.53,"v":0.0103},{"year":"1996","x":0.54,"v":0.0127},{"year":"1996","x":0.55,"v":0.013},{"year":"1996","x":0.56,"v":0.0127},{"year":"1996","x":0.57,"v":0.013},{"year":"1996","x":0.58,"v":0.0131},{"year":"1996","x":0.59,"v":0.0126},
{"year":"1996","x":0.6,"v":0.0115},{"year":"1996","x":0.61,"v":0.0107},{"year":"1996","x":0.62,"v":0.0103},{"year":"1996","x":0.63,"v":0.0108},{"year":"1996","x":0.64,"v":0.0112},{"year":"1996","x":0.65,"v":0.0111},{"year":"1996","x":0.66,"v":0.0108},{"year":"1996","x":0.67,"v":0.0106},{"year":"1996","x":0.68,"v":0.0104},{"year":"1996","x":0.69,"v":0.0099},
{"year":"1996","x":0.7,"v":0.009},{"year":"1996","x":0.71,"v":0.0082},{"year":"1996","x":0.72,"v":0.0079},{"year":"1996","x":0.73,"v":0.0075},{"year":"1996","x":0.74,"v":0.0068},{"year":"1996","x":0.75,"v":0.0058},{"year":"1996","x":0.76,"v":0.0047},{"year":"1996","x":0.77,"v":0.0044},{"year":"1996","x":0.78,"v":0.0037},{"year":"1996","x":0.79,"v":0.003},
{"year":"1996","x":0.8,"v":0.0033},{"year":"1996","x":0.81,"v":0.0035},{"year":"1996","x":0.82,"v":0.0034},{"year":"1996","x":0.83,"v":0.0031},{"year":"1996","x":0.84,"v":0.0028},{"year":"1996","x":0.85,"v":0.0024},{"year":"1996","x":0.86,"v":0.0021},{"year":"1996","x":0.87,"v":0.0017},{"year":"1996","x":0.88,"v":0.0013},{"year":"1996","x":0.89,"v":0.001},
{"year":"1996","x":0.9,"v":0.0007},{"year":"1996","x":0.91,"v":0.0005},{"year":"1996","x":0.92,"v":0.0004},{"year":"1996","x":0.93,"v":0.0003},{"year":"1996","x":0.94,"v":0.0002},{"year":"1996","x":0.95,"v":0.00012},{"year":"1996","x":0.96,"v":0.00008},{"year":"1996","x":0.97,"v":0.00005},{"year":"1996","x":0.98,"v":0.00003},{"year":"1996","x":0.99,"v":0.00002},{"year":"1996","x":1,"v":0.00001},
{"year":"2016","x":0,"v":0.0109},{"year":"2016","x":0.01,"v":0.0108},{"year":"2016","x":0.02,"v":0.0107},{"year":"2016","x":0.03,"v":0.0109},{"year":"2016","x":0.04,"v":0.0113},{"year":"2016","x":0.05,"v":0.0117},{"year":"2016","x":0.06,"v":0.012},{"year":"2016","x":0.07,"v":0.0121},{"year":"2016","x":0.08,"v":0.012},{"year":"2016","x":0.09,"v":0.0115},
{"year":"2016","x":0.1,"v":0.0108},{"year":"2016","x":0.11,"v":0.0102},{"year":"2016","x":0.12,"v":0.0096},{"year":"2016","x":0.13,"v":0.0093},{"year":"2016","x":0.14,"v":0.0091},{"year":"2016","x":0.15,"v":0.0091},{"year":"2016","x":0.16,"v":0.009},{"year":"2016","x":0.17,"v":0.0087},{"year":"2016","x":0.18,"v":0.0087},{"year":"2016","x":0.19,"v":0.009},
{"year":"2016","x":0.2,"v":0.0093},{"year":"2016","x":0.21,"v":0.0096},{"year":"2016","x":0.22,"v":0.0099},{"year":"2016","x":0.23,"v":0.011},{"year":"2016","x":0.24,"v":0.0123},{"year":"2016","x":0.25,"v":0.0134},{"year":"2016","x":0.26,"v":0.0148},{"year":"2016","x":0.27,"v":0.0155},{"year":"2016","x":0.28,"v":0.0158},{"year":"2016","x":0.29,"v":0.0153},
{"year":"2016","x":0.3,"v":0.015},{"year":"2016","x":0.31,"v":0.015},{"year":"2016","x":0.32,"v":0.015},{"year":"2016","x":0.33,"v":0.0145},{"year":"2016","x":0.34,"v":0.0141},{"year":"2016","x":0.35,"v":0.0137},{"year":"2016","x":0.36,"v":0.0135},{"year":"2016","x":0.37,"v":0.0135},{"year":"2016","x":0.38,"v":0.0136},{"year":"2016","x":0.39,"v":0.0138},
{"year":"2016","x":0.4,"v":0.0135},{"year":"2016","x":0.41,"v":0.0133},{"year":"2016","x":0.42,"v":0.0133},{"year":"2016","x":0.43,"v":0.0136},{"year":"2016","x":0.44,"v":0.0139},{"year":"2016","x":0.45,"v":0.0139},{"year":"2016","x":0.46,"v":0.0144},{"year":"2016","x":0.47,"v":0.0141},{"year":"2016","x":0.48,"v":0.0131},{"year":"2016","x":0.49,"v":0.0122},
{"year":"2016","x":0.5,"v":0.0124},{"year":"2016","x":0.51,"v":0.0128},{"year":"2016","x":0.52,"v":0.0132},{"year":"2016","x":0.53,"v":0.0135},{"year":"2016","x":0.54,"v":0.0139},{"year":"2016","x":0.55,"v":0.0141},{"year":"2016","x":0.56,"v":0.0139},{"year":"2016","x":0.57,"v":0.0136},{"year":"2016","x":0.58,"v":0.0134},{"year":"2016","x":0.59,"v":0.0133},
{"year":"2016","x":0.6,"v":0.0133},{"year":"2016","x":0.61,"v":0.0131},{"year":"2016","x":0.62,"v":0.0126},{"year":"2016","x":0.63,"v":0.0123},{"year":"2016","x":0.64,"v":0.0123},{"year":"2016","x":0.65,"v":0.012},{"year":"2016","x":0.66,"v":0.0119},{"year":"2016","x":0.67,"v":0.0116},{"year":"2016","x":0.68,"v":0.0112},{"year":"2016","x":0.69,"v":0.0105},
{"year":"2016","x":0.7,"v":0.0092},{"year":"2016","x":0.71,"v":0.0079},{"year":"2016","x":0.72,"v":0.0073},{"year":"2016","x":0.73,"v":0.0079},{"year":"2016","x":0.74,"v":0.0092},{"year":"2016","x":0.75,"v":0.0093},{"year":"2016","x":0.76,"v":0.0088},{"year":"2016","x":0.77,"v":0.0087},{"year":"2016","x":0.78,"v":0.0084},{"year":"2016","x":0.79,"v":0.0076},
{"year":"2016","x":0.8,"v":0.0066},{"year":"2016","x":0.81,"v":0.0057},{"year":"2016","x":0.82,"v":0.0052},{"year":"2016","x":0.83,"v":0.0051},{"year":"2016","x":0.84,"v":0.0047},{"year":"2016","x":0.85,"v":0.0042},{"year":"2016","x":0.86,"v":0.0037},{"year":"2016","x":0.87,"v":0.0032},{"year":"2016","x":0.88,"v":0.0026},{"year":"2016","x":0.89,"v":0.0022},
{"year":"2016","x":0.9,"v":0.0017},{"year":"2016","x":0.91,"v":0.0013},{"year":"2016","x":0.92,"v":0.001},{"year":"2016","x":0.93,"v":0.0007},{"year":"2016","x":0.94,"v":0.0005},{"year":"2016","x":0.95,"v":0.0004},{"year":"2016","x":0.96,"v":0.00025},{"year":"2016","x":0.97,"v":0.00018},{"year":"2016","x":0.98,"v":0.00012},{"year":"2016","x":0.99,"v":0.00008},{"year":"2016","x":1,"v":0.00007},
{"year":"2035","x":0,"v":0.0075},{"year":"2035","x":0.01,"v":0.00747},{"year":"2035","x":0.02,"v":0.00747},{"year":"2035","x":0.03,"v":0.0075},{"year":"2035","x":0.04,"v":0.0075},{"year":"2035","x":0.05,"v":0.0076},{"year":"2035","x":0.06,"v":0.0077},{"year":"2035","x":0.07,"v":0.0078},{"year":"2035","x":0.08,"v":0.008},{"year":"2035","x":0.09,"v":0.0082},
{"year":"2035","x":0.1,"v":0.0084},{"year":"2035","x":0.11,"v":0.0087},{"year":"2035","x":0.12,"v":0.0094},{"year":"2035","x":0.13,"v":0.0103},{"year":"2035","x":0.14,"v":0.011},{"year":"2035","x":0.15,"v":0.0114},{"year":"2035","x":0.16,"v":0.0117},{"year":"2035","x":0.17,"v":0.0117},{"year":"2035","x":0.18,"v":0.0118},{"year":"2035","x":0.19,"v":0.0119},
{"year":"2035","x":0.2,"v":0.0117},{"year":"2035","x":0.21,"v":0.0115},{"year":"2035","x":0.22,"v":0.0117},{"year":"2035","x":0.23,"v":0.0121},{"year":"2035","x":0.24,"v":0.0125},{"year":"2035","x":0.25,"v":0.0128},{"year":"2035","x":0.26,"v":0.0128},{"year":"2035","x":0.27,"v":0.0127},{"year":"2035","x":0.28,"v":0.0121},{"year":"2035","x":0.29,"v":0.0114},
{"year":"2035","x":0.3,"v":0.0108},{"year":"2035","x":0.31,"v":0.0104},{"year":"2035","x":0.32,"v":0.0101},{"year":"2035","x":0.33,"v":0.0099},{"year":"2035","x":0.34,"v":0.0099},{"year":"2035","x":0.35,"v":0.0099},{"year":"2035","x":0.36,"v":0.0097},{"year":"2035","x":0.37,"v":0.0098},{"year":"2035","x":0.38,"v":0.0103},{"year":"2035","x":0.39,"v":0.0106},
{"year":"2035","x":0.4,"v":0.011},{"year":"2035","x":0.41,"v":0.0118},{"year":"2035","x":0.42,"v":0.013},{"year":"2035","x":0.43,"v":0.0142},{"year":"2035","x":0.44,"v":0.0153},{"year":"2035","x":0.45,"v":0.0162},{"year":"2035","x":0.46,"v":0.017},{"year":"2035","x":0.47,"v":0.0171},{"year":"2035","x":0.48,"v":0.0167},{"year":"2035","x":0.49,"v":0.0163},
{"year":"2035","x":0.5,"v":0.0164},{"year":"2035","x":0.51,"v":0.0162},{"year":"2035","x":0.52,"v":0.0157},{"year":"2035","x":0.53,"v":0.0149},{"year":"2035","x":0.54,"v":0.0146},{"year":"2035","x":0.55,"v":0.0142},{"year":"2035","x":0.56,"v":0.0139},{"year":"2035","x":0.57,"v":0.0138},{"year":"2035","x":0.58,"v":0.0138},{"year":"2035","x":0.59,"v":0.0135},
{"year":"2035","x":0.6,"v":0.0133},{"year":"2035","x":0.61,"v":0.0131},{"year":"2035","x":0.62,"v":0.0132},{"year":"2035","x":0.63,"v":0.0132},{"year":"2035","x":0.64,"v":0.0132},{"year":"2035","x":0.65,"v":0.0134},{"year":"2035","x":0.66,"v":0.0128},{"year":"2035","x":0.67,"v":0.012},{"year":"2035","x":0.68,"v":0.0109},{"year":"2035","x":0.69,"v":0.0109},
{"year":"2035","x":0.7,"v":0.011},{"year":"2035","x":0.71,"v":0.0112},{"year":"2035","x":0.72,"v":0.0113},{"year":"2035","x":0.73,"v":0.0114},{"year":"2035","x":0.74,"v":0.0112},{"year":"2035","x":0.75,"v":0.0107},{"year":"2035","x":0.76,"v":0.0102},{"year":"2035","x":0.77,"v":0.0098},{"year":"2035","x":0.78,"v":0.0094},{"year":"2035","x":0.79,"v":0.0091},
{"year":"2035","x":0.8,"v":0.0087},{"year":"2035","x":0.81,"v":0.0081},{"year":"2035","x":0.82,"v":0.0074},{"year":"2035","x":0.83,"v":0.007},{"year":"2035","x":0.84,"v":0.0065},{"year":"2035","x":0.85,"v":0.006},{"year":"2035","x":0.86,"v":0.0055},{"year":"2035","x":0.87,"v":0.0048},{"year":"2035","x":0.88,"v":0.0041},{"year":"2035","x":0.89,"v":0.0033},
{"year":"2035","x":0.9,"v":0.0026},{"year":"2035","x":0.91,"v":0.0019},{"year":"2035","x":0.92,"v":0.0016},{"year":"2035","x":0.93,"v":0.0015},{"year":"2035","x":0.94,"v":0.0013},{"year":"2035","x":0.95,"v":0.0009},{"year":"2035","x":0.96,"v":0.0007},{"year":"2035","x":0.97,"v":0.0005},{"year":"2035","x":0.98,"v":0.0003},{"year":"2035","x":0.99,"v":0.0002},{"year":"2035","x":1,"v":0.00025}
]
},
"layer":[
{"data":{"name":"thin"},
 "mark":{"type":"line","interpolate":"monotone","strokeWidth":1.6,"opacity":0.28},
 "encoding":{
  "x":{"field":"x","type":"quantitative","scale":{"domain":[-0.05,1.05],"nice":false,"zero":false},"axis":{"title":"Age/100","values":[0,0.2,0.4,0.6,0.8,1.0],"format":".1f","tickSize":7,"labelPadding":9,"titlePadding":10}},
  "y":{"field":"v","type":"quantitative","scale":{"domain":[-0.00086,0.01801],"nice":false,"zero":false},"axis":{"title":"Relative frequency","values":[0,0.0025,0.005,0.0075,0.01,0.0125,0.015,0.0175],"format":".4f","tickSize":7,"labelPadding":12,"titlePadding":12}},
  "detail":{"field":"t","type":"nominal"},
  "color":{"field":"t","type":"quantitative","scale":{"scheme":"viridis","domain":[1996,2035]},"legend":null}
 }},
{"data":{"name":"bold"},
 "mark":{"type":"line","strokeWidth":3.6},
 "encoding":{
  "x":{"field":"x","type":"quantitative"},
  "y":{"field":"v","type":"quantitative"},
  "color":{"field":"year","type":"nominal","scale":{"domain":["1996","2016","2035"],"range":["#440154","#21918c","#fde725"]},
   "legend":{"orient":"none","legendX":198,"legendY":-135,"direction":"horizontal","title":null,"symbolType":"stroke","symbolSize":2025,"symbolStrokeWidth":3.6,"labelFontSize":20,"labelColor":"#000000","labelOffset":15,"columnPadding":28,"gridAlign":"all","padding":0}}
 }}
],
"resolve":{"scale":{"color":"independent"}}
}
